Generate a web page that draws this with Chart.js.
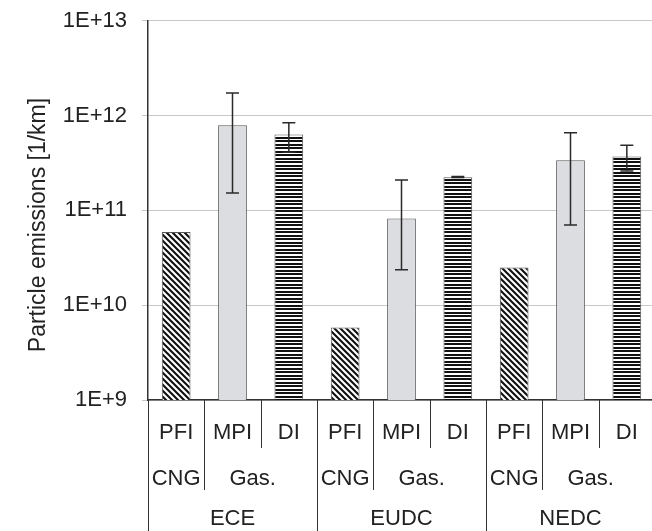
<!DOCTYPE html>
<html>
<head>
<meta charset="utf-8">
<script src="https://cdn.jsdelivr.net/npm/chart.js@4"></script>
<style>
  html, body { margin: 0; padding: 0; background: #fff; overflow: hidden; }
  #wrap { position: relative; width: 660px; height: 531px; }
</style>
</head>
<body>
<div id="wrap"><canvas id="c"></canvas></div>
<script>
// ---- data ----
const categories = ['PFI', 'MPI', 'DI', 'PFI', 'MPI', 'DI', 'PFI', 'MPI', 'DI'];
const fuelLabels = ['CNG', 'Gas.', 'CNG', 'Gas.', 'CNG', 'Gas.'];
const fuelSpans  = [1, 2, 1, 2, 1, 2];
const cycles = ['ECE', 'EUDC', 'NEDC'];
const values  = [5.9e10, 7.9e11, 6.3e11, 5.8e9, 8.2e10, 2.24e11, 2.5e10, 3.37e11, 3.7e11];
const errLow  = [null, 1.52e11, 4.1e11, null, 2.36e10, 2.22e11, null, 7.0e10, 2.6e11];
const errHigh = [null, 1.73e12, 8.4e11, null, 2.09e11, 2.27e11, null, 6.6e11, 4.85e11];
const yTicks = [1e9, 1e10, 1e11, 1e12, 1e13];
const yTitle = 'Particle emissions [1/km]';

const FONT = "'Liberation Sans', Arial, sans-serif";
const canvas = document.getElementById('c');
const ctx = canvas.getContext('2d');

function diagPattern() {
  const c = document.createElement('canvas');
  c.width = 6; c.height = 6;
  const g = c.getContext('2d');
  g.fillStyle = '#fff'; g.fillRect(0, 0, 6, 6);
  g.strokeStyle = '#111'; g.lineWidth = 2.1;
  g.beginPath();
  g.moveTo(-1, -1); g.lineTo(7, 7);
  g.moveTo(-7, -1); g.lineTo(1, 7);
  g.moveTo(5, -1); g.lineTo(13, 7);
  g.stroke();
  return ctx.createPattern(c, 'repeat');
}
function horizPattern() {
  const c = document.createElement('canvas');
  c.width = 4; c.height = 7;
  const g = c.getContext('2d');
  g.fillStyle = '#fff'; g.fillRect(0, 0, 4, 7);
  g.fillStyle = '#111';
  g.fillRect(0, 0, 4, 2);
  g.fillRect(0, 4, 4, 2);
  return ctx.createPattern(c, 'repeat');
}
const pDiag = diagPattern();
const pHoriz = horizPattern();
const fills = categories.map(c => c === 'PFI' ? pDiag : (c === 'MPI' ? '#dcdde0' : pHoriz));

const overlay = {
  id: 'overlay',
  afterDatasetsDraw(chart) {
    const g = chart.ctx;
    const y = chart.scales.y;
    const meta = chart.getDatasetMeta(0);
    g.save();
    g.strokeStyle = '#2a2a2a';
    g.lineWidth = 1.5;
    meta.data.forEach((bar, i) => {
      if (errHigh[i] == null) return;
      const x = bar.x;
      const y1 = y.getPixelForValue(errHigh[i]);
      const y2 = y.getPixelForValue(errLow[i]);
      g.beginPath();
      g.moveTo(x, y1); g.lineTo(x, y2);
      g.moveTo(x - 6.5, y1); g.lineTo(x + 6.5, y1);
      g.moveTo(x - 6.5, y2); g.lineTo(x + 6.5, y2);
      g.stroke();
    });
    g.restore();
  },
  afterDraw(chart) {
    const g = chart.ctx;
    const area = chart.chartArea;
    const H = chart.height;
    const n = categories.length;
    const cw = (area.right - area.left) / n;
    g.save();
    g.strokeStyle = '#333';
    g.lineWidth = 1;
    // separators
    for (let k = 0; k <= n; k++) {
      const x = Math.round(area.left + k * cw) + 0.5;
      let yEnd;
      if (k % 3 === 0) yEnd = H;
      else if (k % 3 === 1) yEnd = area.bottom + 90;
      else yEnd = area.bottom + 48;
      g.beginPath();
      g.moveTo(x, area.bottom);
      g.lineTo(x, yEnd);
      g.stroke();
    }
    // row 2 & 3 labels
    g.fillStyle = '#222';
    g.font = '22px ' + FONT;
    g.textAlign = 'center';
    g.textBaseline = 'middle';
    let idx = 0;
    fuelLabels.forEach((lab, j) => {
      const span = fuelSpans[j];
      let cx = area.left + (idx + span / 2) * cw;
      if (span === 2) cx -= 8;
      g.fillText(lab, cx, area.bottom + 79);
      idx += span;
    });
    cycles.forEach((lab, j) => {
      const cx = area.left + (j * 3 + 1.5) * cw;
      g.fillText(lab, cx, area.bottom + 119);
    });
    // y title
    g.font = '23px ' + FONT;
    g.translate(39, 225);
    g.rotate(-Math.PI / 2);
    g.fillText(yTitle, 0, 0);
    g.restore();
  }
};

new Chart(canvas, {
  type: 'bar',
  data: {
    labels: categories,
    datasets: [{
      data: values,
      backgroundColor: fills,
      borderColor: '#555',
      borderWidth: 1,
      barPercentage: 1,
      categoryPercentage: 0.51
    }]
  },
  options: {
    responsive: true,
    maintainAspectRatio: false,
    animation: false,
    events: [],
    layout: { padding: { left: 0, top: 20.7, right: 5, bottom: 0 } },
    plugins: { legend: { display: false }, tooltip: { enabled: false }, title: { display: false } },
    scales: {
      x: {
        grid: { display: false, drawTicks: false },
        border: { display: true, color: '#333', width: 1.5 },
        ticks: {
          font: { family: FONT, size: 22 }, color: '#222',
          padding: 20, maxRotation: 0, autoSkip: false
        },
        afterFit(s) { s.height = 131; s.paddingLeft = 0; s.paddingRight = 0; }
      },
      y: {
        type: 'logarithmic',
        min: 1e9, max: 1e13,
        grid: { color: '#c8c8c8', lineWidth: 1, tickLength: 6, drawTicks: true },
        border: { display: true, color: '#333', width: 1.5 },
        ticks: {
          font: { family: FONT, size: 22 }, color: '#222', padding: 15,
          callback: v => '1E+' + Math.round(Math.log10(v))
        },
        afterBuildTicks(s) { s.ticks = yTicks.map(v => ({ value: v })); },
        afterFit(s) { s.width = 148; s.paddingTop = 0; s.paddingBottom = 0; }
      }
    }
  },
  plugins: [overlay]
});
</script>
</body>
</html>
